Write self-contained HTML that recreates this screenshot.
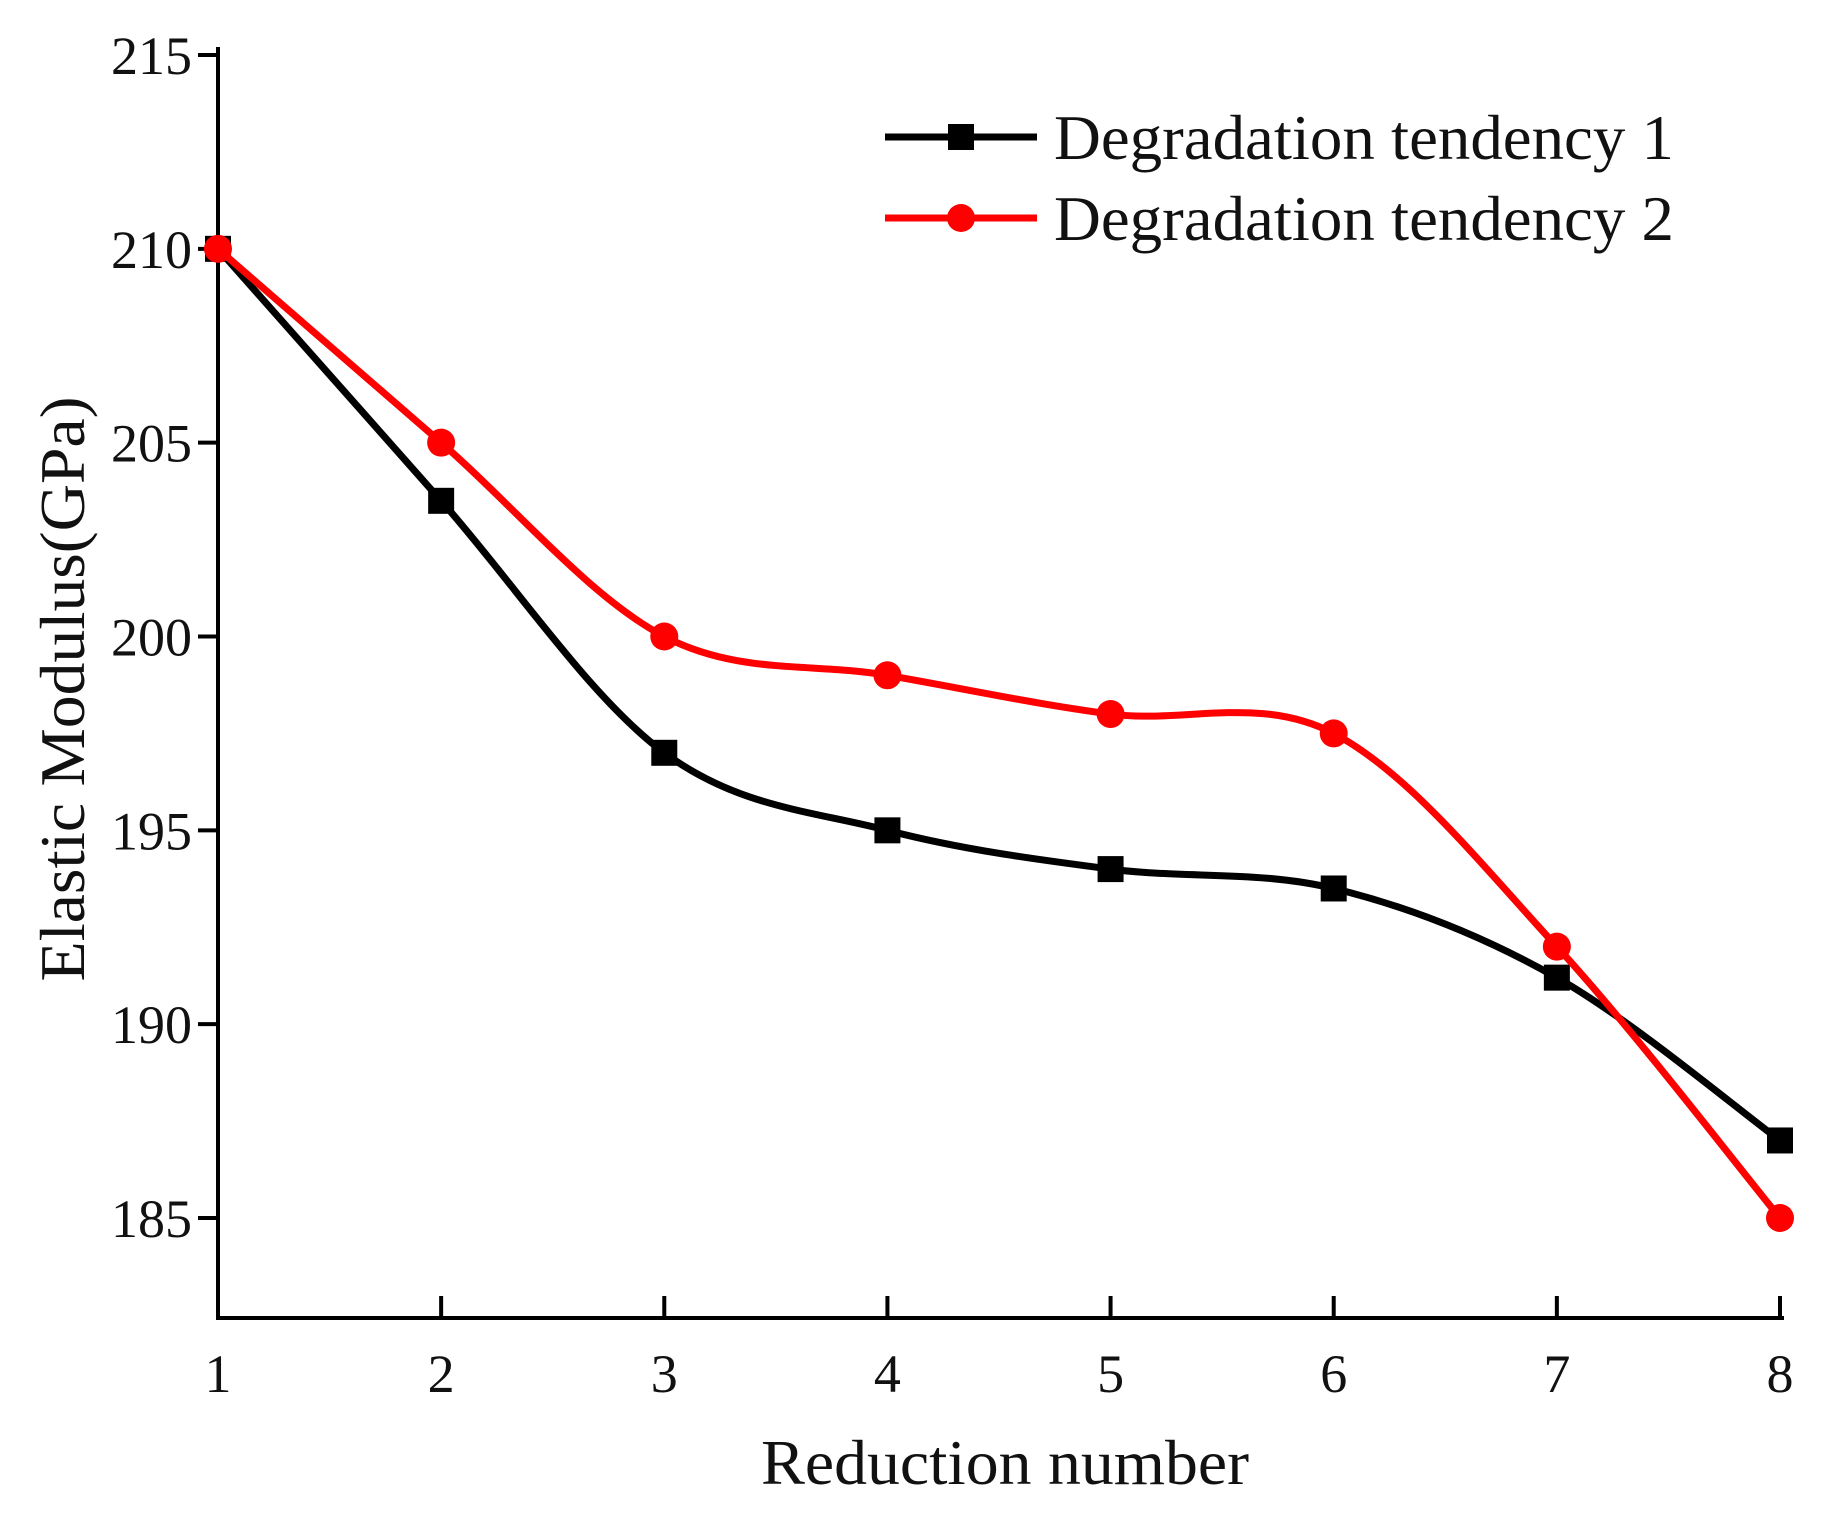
<!DOCTYPE html>
<html><head><meta charset="utf-8"><style>
html,body{margin:0;padding:0;background:#fff;}
svg{display:block;}
text{font-family:"Liberation Serif",serif;fill:#111;}
</style></head><body>
<svg id="chart" width="1822" height="1513" viewBox="0 0 1822 1513">
<g id="axes"></g>
<g id="series"></g>
<g id="legend"></g>
<text x="1005" y="1484" font-size="64" text-anchor="middle" textLength="488" lengthAdjust="spacingAndGlyphs">Reduction number</text>
<text transform="translate(84,689) rotate(-90)" font-size="64" text-anchor="middle" textLength="585" lengthAdjust="spacingAndGlyphs">Elastic Modulus(GPa)</text>
</svg>
<script>
const categories=[1,2,3,4,5,6,7,8];
const series1=[210,203.5,197,195,194,193.5,191.2,187];
const series2=[210,205,200,199,198,197.5,192,185];
const yTicks=[185,190,195,200,205,210,215];
const seriesNames=["Degradation tendency 1","Degradation tendency 2"];

const NS="http://www.w3.org/2000/svg";
const x0=218,x1=1780,yTop=55,yBot=1218,axisBottom=1318;
function xs(v){return x0+(v-1)*(x1-x0)/7;}
function ys(v){return yBot-(v-185)*(yBot-yTop)/30;}
function mk(t,a,p){const e=document.createElementNS(NS,t);for(const k in a)e.setAttribute(k,a[k]);p.appendChild(e);return e;}
const axes=document.getElementById('axes');
let l=mk('line',{x1:x0,y1:yTop-8,x2:x0,y2:axisBottom+2,stroke:'#000','stroke-width':4},axes);


l=mk('line',{x1:x0-2,y1:axisBottom,x2:x1+4,y2:axisBottom,stroke:'#000','stroke-width':4},axes);


yTicks.forEach(v=>{
 const t=mk('line',{x1:x0-20,y1:ys(v),x2:x0,y2:ys(v),stroke:'#000','stroke-width':4},axes);
 
 
 const tx=mk('text',{x:x0-26,y:ys(v)+19,'font-size':54,'text-anchor':'end'},axes);
 tx.textContent=v;
 
 
});
categories.forEach(c=>{
 if(c>1){const t=mk('line',{x1:xs(c),y1:axisBottom,x2:xs(c),y2:axisBottom-22,stroke:'#000','stroke-width':4},axes);
 
 }
 const tx=mk('text',{x:xs(c),y:1392,'font-size':54,'text-anchor':'middle'},axes);
 tx.textContent=c;
 
 
});
function pathFor(vals){
 const p=vals.map((v,i)=>[xs(categories[i]),ys(v)]);
 let d='M'+p[0][0]+','+p[0][1];
 for(let i=0;i<p.length-1;i++){
  const a=p[Math.max(0,i-1)],b=p[i],c=p[i+1],e=p[Math.min(p.length-1,i+2)];
  const c1=[b[0]+(c[0]-a[0])/6,b[1]+(c[1]-a[1])/6],c2=[c[0]-(e[0]-b[0])/6,c[1]-(e[1]-b[1])/6];
  d+=' C'+c1+' '+c2+' '+c;
 }
 return d;
}
const sg=document.getElementById('series');
[[series1,'#000','square'],[series2,'#f00','circle']].forEach(([vals,col,shape],si)=>{
 const p=mk('path',{d:pathFor(vals),fill:'none',stroke:col,'stroke-width':7},sg);
 
 
 vals.forEach((v,i)=>{
  let m;
  if(shape==='square')m=mk('rect',{x:xs(categories[i])-13,y:ys(v)-13,width:26,height:26,fill:col},sg);
  else m=mk('circle',{cx:xs(categories[i]),cy:ys(v),r:14,fill:col},sg);
  
  
 });
});
const lg=document.getElementById('legend');
[[137,'#000','square'],[218,'#f00','circle']].forEach(([y,col,shape],i)=>{
 const ln=mk('line',{x1:885,y1:y,x2:1037,y2:y,stroke:col,'stroke-width':7},lg);
 
 
 let m;
 if(shape==='square')m=mk('rect',{x:948,y:y-13,width:26,height:26,fill:col},lg);
 else m=mk('circle',{cx:961,cy:y,r:14,fill:col},lg);
 
 
 const t=mk('text',{x:1054,y:y+22,'font-size':64,textLength:620,lengthAdjust:'spacingAndGlyphs'},lg);
 t.textContent=seriesNames[i];
 
 
});
</script>
</body></html>
